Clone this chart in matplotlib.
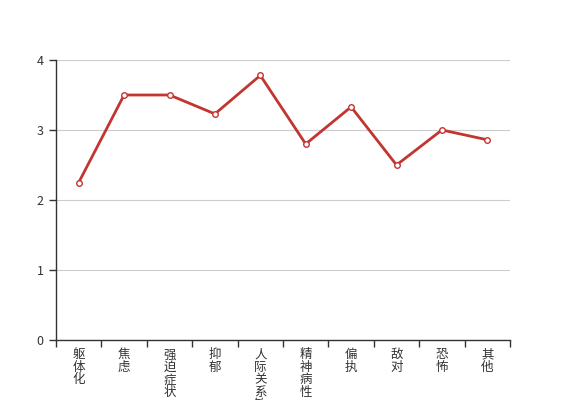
import matplotlib
matplotlib.use("Agg")
import matplotlib.pyplot as plt
import numpy as np

plt.rcParams['font.family'] = ['Noto Sans CJK SC', 'DejaVu Sans']

categories = ['躯体化', '焦虑', '强迫症状', '抑郁', '人际关系敏感', '精神病性', '偏执', '敌对', '恐怖', '其他']
values = [2.25, 3.5, 3.5, 3.23, 3.78, 2.8, 3.33, 2.5, 3.0, 2.86]
yticks = [0, 1, 2, 3, 4]

fig = plt.figure(figsize=(5.67, 4.0), dpi=100)
ax = fig.add_axes([56/567, 60/400, 454/567, 280/400])

x = np.arange(len(categories))
ax.plot(x, values, color='#c23531', lw=2, marker='o', ms=4,
        mfc='white', mec='#c23531', mew=1, zorder=3)

ax.set_xlim(-0.5, len(categories) - 0.5)
ax.set_ylim(0, 4)
ax.set_yticks(yticks)
ax.set_yticklabels([str(v) for v in yticks], fontsize=9, color='#333333')
ax.grid(axis='y', color='#cccccc', lw=0.8)
ax.set_axisbelow(True)

ax.set_xticks(x)
ax.set_xticklabels(['\n'.join(c) for c in categories], fontsize=9,
                   color='#333333', linespacing=0.95, va='top')
ax.tick_params(axis='x', which='major', length=0, pad=6)
ax.set_xticks(np.arange(-0.5, len(categories)), minor=True)
ax.tick_params(axis='x', which='minor', length=5, color='#333333', width=1)
ax.tick_params(axis='y', length=5, color='#333333', width=1, pad=4)

for s in ['top', 'right']:
    ax.spines[s].set_visible(False)
for s in ['left', 'bottom']:
    ax.spines[s].set_color('#333333')
    ax.spines[s].set_linewidth(1)

fig.savefig('out.png', dpi=100)
